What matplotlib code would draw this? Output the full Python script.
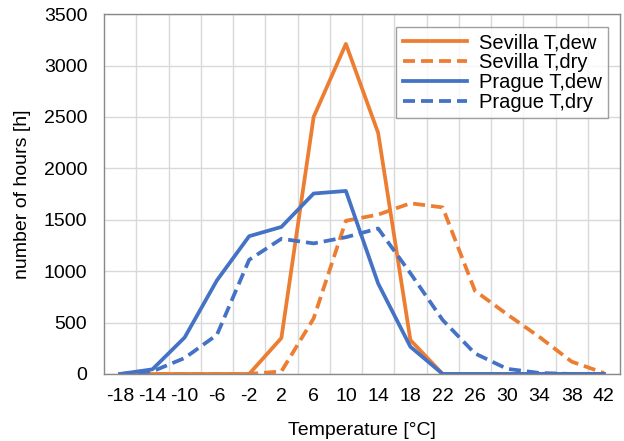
import numpy as np
import matplotlib.pyplot as plt

plt.rcParams['font.family'] = ['Liberation Sans', 'DejaVu Sans']

temps = [-18, -14, -10, -6, -2, 2, 6, 10, 14, 18, 22, 26, 30, 34, 38, 42]
sevilla_dew = [0, 0, 0, 0, 0, 350, 2500, 3210, 2345, 330, 0, 0, 0, 0, 0, 0]
sevilla_dry = [0, 0, 0, 0, 0, 25, 540, 1490, 1550, 1660, 1620, 810, 580, 360, 120, 10]
prague_dew = [0, 45, 355, 910, 1340, 1430, 1755, 1780, 880, 265, 0, 0, 0, 0, 0, 0]
prague_dry = [0, 25, 155, 380, 1110, 1315, 1270, 1330, 1415, 980, 525, 200, 50, 10, 0, 0]

orange = '#ED7D31'
blue = '#4472C4'

fig = plt.figure(figsize=(6.24, 4.41), dpi=100)
ax = fig.add_axes([0.1667, 0.152, 0.8269, 0.816])

x = np.arange(len(temps))
ax.plot(x, sevilla_dew, color=orange, lw=2.7, label='Sevilla T,dew')
ax.plot(x, sevilla_dry, color=orange, lw=2.7, ls=(0, (3.2, 1.6)), label='Sevilla T,dry')
ax.plot(x, prague_dew, color=blue, lw=2.7, label='Prague T,dew')
ax.plot(x, prague_dry, color=blue, lw=2.7, ls=(0, (3.2, 1.6)), label='Prague T,dry')

ax.set_xlim(-0.5, len(temps) - 0.5)
ax.set_ylim(0, 3500)
ax.set_yticks(range(0, 3501, 500))
ax.set_xticks(x)
ax.set_xticklabels([str(t) for t in temps])
ax.set_xticks(x[:-1] + 0.5, minor=True)
ax.tick_params(which='both', length=0, labelsize=14)
ax.tick_params(axis='x', pad=10)
ax.tick_params(axis='y', pad=12)
ax.grid(True, axis='y', color='#D9D9D9', lw=1)
ax.grid(True, axis='x', which='minor', color='#D9D9D9', lw=1)
ax.set_axisbelow(True)
for s in ax.spines.values():
    s.set_color('#898989')
    s.set_linewidth(1)

ax.set_xlabel('Temperature [°C]', fontsize=14, labelpad=12)
ax.set_ylabel('number of hours [h]', fontsize=14, labelpad=9)

leg = ax.legend(loc='upper right', bbox_to_anchor=(0.9767, 0.9639), fontsize=14.5,
                frameon=True, fancybox=False, handlelength=3.2, borderpad=0.3,
                labelspacing=0.05, handletextpad=0.6, borderaxespad=0)
leg.get_frame().set_edgecolor('#898989')
leg.get_frame().set_linewidth(1)

fig.savefig('out.png', dpi=100)
